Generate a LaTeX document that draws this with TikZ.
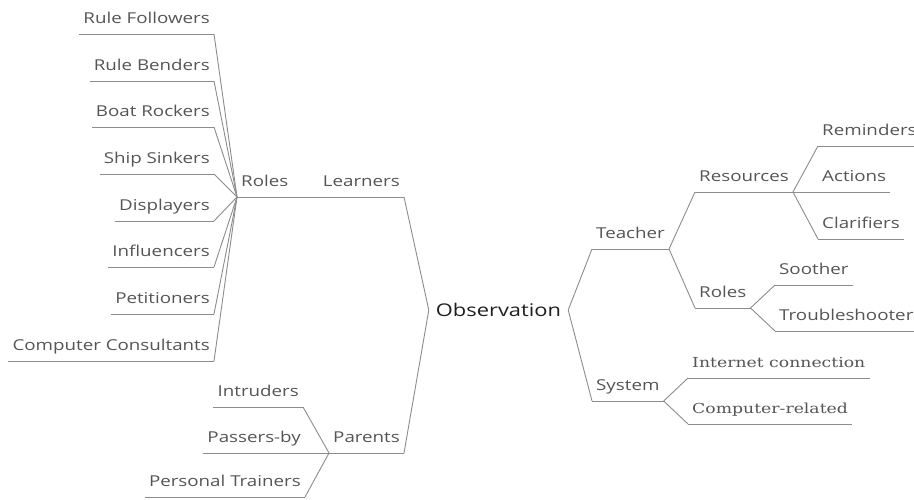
\documentclass[tikz,border=0pt]{standalone}
\usepackage{fontspec}
\setmainfont{Open Sans}[FakeStretch=1.25]
\newfontfamily\slabfont{DejaVu Serif}[FakeStretch=1.25]
\definecolor{txtgray}{HTML}{555555}
\definecolor{linegray}{HTML}{8C8C8C}
\definecolor{rootgray}{HTML}{1E1E1E}

\begin{document}
\begin{tikzpicture}[x=1pt, y=-1pt,
    topic/.style={font=\fontsize{15}{17}\selectfont, text=txtgray,
      inner xsep=4pt, inner ysep=2pt, text height=11pt, text depth=8pt},
    lt/.style={topic, anchor=south east},
    rt/.style={topic, anchor=south west},
    slab/.style={font=\slabfont\fontsize{13.8}{15}\selectfont},
    branch/.style={draw=linegray, line width=0.9pt}]
  \clip (0,0) rectangle (914,500);
  % root
  \node (obs) at (498.5,310) [font=\fontsize{17.5}{20}\selectfont, text=rootgray,
    inner xsep=6pt, minimum width=139pt] {Observation};

  % left side
  \node (learners) at (404,197) [lt] {Learners};
  \node (rolesL) at (237,197) [rt] {Roles};
  \node (rf) at (214,34) [lt] {Rule Followers};
  \node (rb) at (214,81) [lt] {Rule Benders};
  \node (br) at (214,127) [lt] {Boat Rockers};
  \node (ss) at (214,174) [lt] {Ship Sinkers};
  \node (dp) at (214,221) [lt] {Displayers};
  \node (inf) at (214,267) [lt] {Influencers};
  \node (pt) at (214,314) [lt] {Petitioners};
  \node (cc) at (214,361) [lt] {Computer Consultants};
  \node (parents) at (404,453) [lt] {Parents};
  \node (intr) at (303,407) [lt] {Intruders};
  \node (pby) at (305,453) [lt] {Passers-by};
  \node (ptr) at (305,497) [lt] {Personal Trainers};

  % right side
  \node (teacher) at (592,249) [rt] {Teacher};
  \node (res) at (695,192) [rt] {Resources};
  \node (rem) at (818,146) [rt] {Reminders};
  \node (act) at (818,192) [rt] {Actions};
  \node (clar) at (818,239) [rt] {Clarifiers};
  \node (rolesR) at (695,308) [rt] {Roles};
  \node (soo) at (775,285) [rt] {Soother};
  \node (tro) at (775,331) [rt] {Troubleshooter};
  \node (system) at (592,401) [rt] {System};
  \node (inet) at (688,378) [rt, slab] {Internet connection};
  \node (comp) at (688,424) [rt, slab] {Computer-related};

  % underlines
  \foreach \n in {learners,rolesL,rf,rb,br,ss,dp,inf,pt,cc,parents,intr,pby,ptr,
                  teacher,res,rem,act,clar,rolesR,soo,tro,system,inet,comp}
    \draw[branch] (\n.south west) -- (\n.south east);

  % connectors
  \draw[branch] (learners.south east) -- (obs.west);
  \draw[branch] (parents.south east) -- (obs.west);
  \draw[branch] (rolesL.south east) -- (learners.south west);
  \foreach \n in {rf,rb,br,ss,dp,inf,pt,cc}
    \draw[branch] (\n.south east) -- (rolesL.south west);
  \foreach \n in {intr,pby,ptr}
    \draw[branch] (\n.south east) -- (parents.south west);

  \draw[branch] (obs.east) -- (teacher.south west);
  \draw[branch] (obs.east) -- (system.south west);
  \draw[branch] (teacher.south east) -- (res.south west);
  \draw[branch] (teacher.south east) -- (rolesR.south west);
  \foreach \n in {rem,act,clar}
    \draw[branch] (res.south east) -- (\n.south west);
  \foreach \n in {soo,tro}
    \draw[branch] (rolesR.south east) -- (\n.south west);
  \foreach \n in {inet,comp}
    \draw[branch] (system.south east) -- (\n.south west);
\end{tikzpicture}
\end{document}
